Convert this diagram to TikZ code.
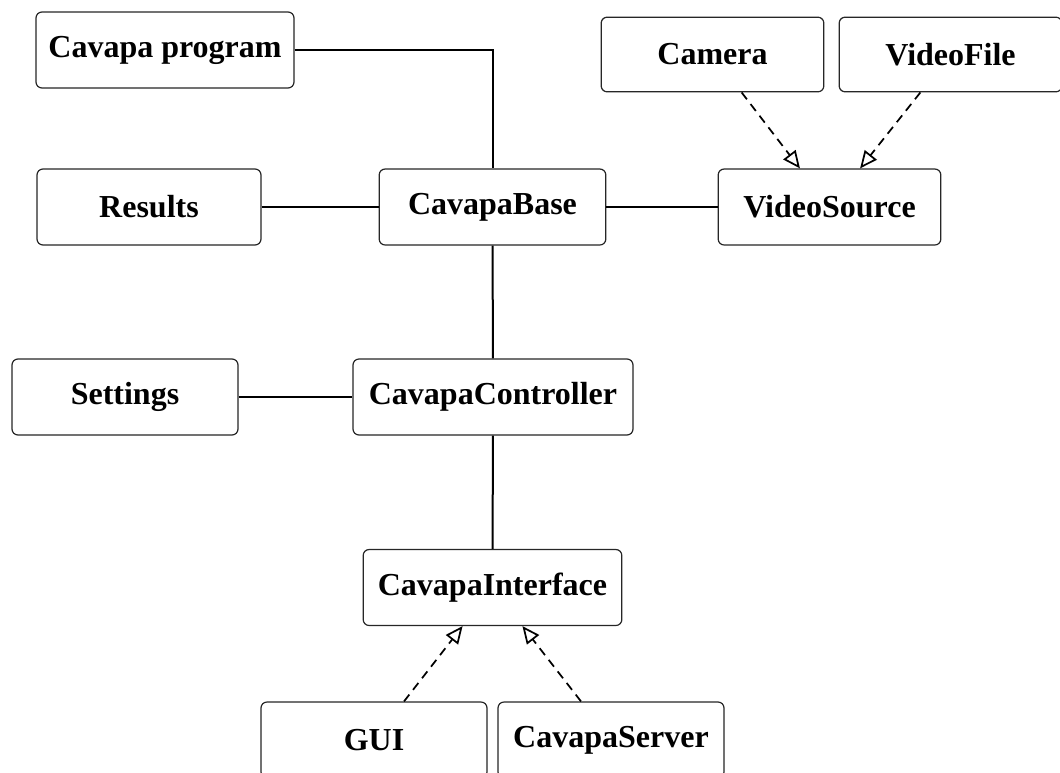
\documentclass[tikz,border=0pt]{standalone}
\usepackage{fontspec}
\setmainfont{Liberation Serif}
\usetikzlibrary{arrows.meta}
\tikzset{
  cls/.style={draw=black!85, line width=0.9pt, rounded corners=4.5pt, fill=white,
    minimum height=57pt, minimum width=168pt, inner sep=0pt,
    font=\fontsize{24}{29}\selectfont\bfseries},
  assoc/.style={line width=1.5pt, black},
  realize/.style={line width=1.3pt, black, dash pattern=on 6.5pt off 4.5pt,
    -{Triangle[open, length=13pt, width=11.5pt, line width=1.3pt]}}
}
\begin{document}
\begin{tikzpicture}[x=0.75pt, y=-0.75pt]
\useasboundingbox (0,0) rectangle (1060,772);
\node[cls, minimum width=193.5pt] (prog) at (165,50) {Cavapa program};
\node[cls] (results) at (149,207) {Results};
\node[cls, minimum width=170pt] (base) at (492.5,207) {CavapaBase};
\node[cls, minimum width=167pt] (vsrc) at (829.5,207) {VideoSource};
\node[cls, minimum width=167pt, minimum height=56pt] (camera) at (712.5,54.5) {Camera};
\node[cls, minimum width=167pt, minimum height=56pt] (vfile) at (950.5,54.5) {VideoFile};
\node[cls, minimum width=169.5pt] (settings) at (125,397) {Settings};
\node[cls, minimum width=210pt] (ctrl) at (493,397) {CavapaController};
\node[cls, minimum width=194pt] (iface) at (492.5,587.5) {CavapaInterface};
\node[cls, minimum width=169.5pt] (gui) at (374,740) {GUI};
\node[cls, minimum width=169.5pt] (server) at (611,740) {CavapaServer};

\draw[assoc] (prog) -| (base);
\draw[assoc] (results) -- (base);
\draw[assoc] (base) -- (vsrc);
\draw[assoc] (base) -- (ctrl);
\draw[assoc] (settings) -- (ctrl);
\draw[assoc] (ctrl) -- (iface);
\draw[realize] (camera) -- (vsrc);
\draw[realize] (vfile) -- (vsrc);
\draw[realize] (gui) -- (iface);
\draw[realize] (server) -- (iface);
\end{tikzpicture}
\end{document}
